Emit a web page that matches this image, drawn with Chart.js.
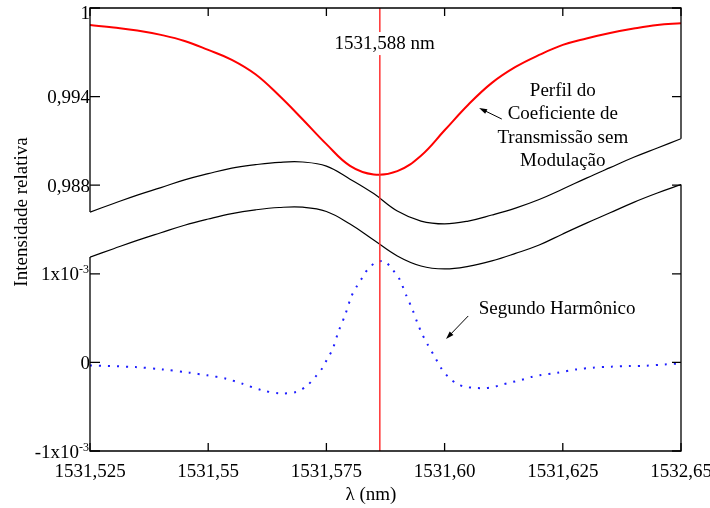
<!DOCTYPE html>
<html>
<head>
<meta charset="utf-8">
<script src="https://cdn.jsdelivr.net/npm/chart.js@4/dist/chart.umd.min.js"></script>
<style>
html,body{margin:0;padding:0;background:#fff;}
#wrap{width:710px;height:508px;}
</style>
</head>
<body>
<div id="wrap"><canvas id="c" width="710" height="508"></canvas></div>
<script>
// ---------- data ----------
const lambda = [1531.525, 1531.530, 1531.535, 1531.540, 1531.545, 1531.550, 1531.555, 1531.560, 1531.565,
  1531.570, 1531.575, 1531.580, 1531.585, 1531.590, 1531.595, 1531.600, 1531.605, 1531.610, 1531.615,
  1531.620, 1531.625, 1531.630, 1531.635, 1531.640, 1531.645, 1531.650];

// Perfil do coeficiente de transmissão sem modulação (red)
const transmissionNoMod = [0.99885, 0.99868, 0.99848, 0.99818, 0.99777, 0.99716, 0.99649, 0.99551, 0.99407,
  0.99245, 0.99078, 0.98931, 0.98873, 0.98895, 0.99000, 0.99172, 0.99345, 0.99493, 0.99601,
  0.99682, 0.99750, 0.99794, 0.99831, 0.99861, 0.99885, 0.99897];

// modulated transmission curves (black)
const modulatedUpper = [0.98618, 0.98676, 0.98733, 0.98784, 0.98836, 0.98878, 0.98916, 0.98939, 0.98955,
  0.98957, 0.98929, 0.98841, 0.98743, 0.98625, 0.98557, 0.98538, 0.98557, 0.98598, 0.98645,
  0.98703, 0.98774, 0.98848, 0.98919, 0.98989, 0.99052, 0.99115];
const modulatedLower = [0.98313, 0.98370, 0.98426, 0.98478, 0.98529, 0.98571, 0.98608, 0.98633, 0.98649,
  0.98651, 0.98622, 0.98537, 0.98429, 0.98321, 0.98253, 0.98233, 0.98250, 0.98287, 0.98338,
  0.98395, 0.98470, 0.98543, 0.98613, 0.98684, 0.98747, 0.98804];

// Segundo harmônico (blue dotted)
const harmonicLambda = [1531.5250, 1531.5347, 1531.5403, 1531.5460, 1531.5498, 1531.5538, 1531.5572, 1531.5612,
  1531.5650, 1531.5686, 1531.5708, 1531.5727, 1531.5742, 1531.5752, 1531.5763, 1531.5775, 1531.5790,
  1531.5803, 1531.5814, 1531.5826, 1531.5837, 1531.5855, 1531.5873, 1531.5890, 1531.5905, 1531.5919,
  1531.5932, 1531.5943, 1531.5953, 1531.5964, 1531.5981, 1531.5993, 1531.6008, 1531.6028, 1531.6047,
  1531.6067, 1531.6087, 1531.6106, 1531.6123, 1531.6143, 1531.6162, 1531.6182, 1531.6201, 1531.6239,
  1531.6279, 1531.6314, 1531.6353, 1531.6390, 1531.6427, 1531.6466, 1531.6500];
const secondHarmonic = [-0.034e-3, -0.053e-3, -0.079e-3, -0.116e-3, -0.146e-3, -0.184e-3, -0.240e-3, -0.312e-3,
  -0.349e-3, -0.334e-3, -0.267e-3, -0.161e-3, -0.060e-3, 0.042e-3, 0.146e-3, 0.341e-3, 0.541e-3,
  0.747e-3, 0.856e-3, 0.957e-3, 1.047e-3, 1.130e-3, 1.141e-3, 1.047e-3, 0.935e-3, 0.755e-3,
  0.597e-3, 0.439e-3, 0.315e-3, 0.203e-3, 0.045e-3, -0.068e-3, -0.166e-3, -0.248e-3, -0.278e-3,
  -0.289e-3, -0.289e-3, -0.274e-3, -0.248e-3, -0.222e-3, -0.199e-3, -0.166e-3, -0.146e-3, -0.116e-3,
  -0.079e-3, -0.060e-3, -0.048e-3, -0.042e-3, -0.037e-3, -0.023e-3, -0.011e-3];

const markerLambda = 1531.5863;
const markerLabel = '1531,588 nm';

// ticks
const xTicks = [1531.525, 1531.55, 1531.575, 1531.60, 1531.625, 1531.65];
const xTickLabels = ['1531,525', '1531,55', '1531,575', '1531,60', '1531,625', '1532,65'];
const upperTicks = [1, 0.994, 0.988];
const upperTickLabels = ['1', '0,994', '0,988'];
const lowerTicks = [1e-3, 0, -1e-3];
const lowerTickLabels = [['1x10', '-3'], ['0', ''], ['-1x10', '-3']];

const xTitle = 'λ (nm)';
const yTitle = 'Intensidade relativa';
const transLabelLines = ['Perfil do', 'Coeficiente de', 'Transmissão sem', 'Modulação'];
const harmLabel = 'Segundo Harmônico';

// ---------- chart ----------
const FONT = '"Liberation Serif", "Times New Roman", Times, serif';
const pts = (xs, ys) => xs.map((x, i) => ({x: x, y: ys[i]}));

function arrow(ctx, x1, y1, x2, y2) {
  const a = Math.atan2(y2 - y1, x2 - x1);
  const L = 8, W = 2.6;
  ctx.beginPath();
  ctx.moveTo(x1, y1);
  ctx.lineTo(x2 - Math.cos(a) * L * 0.7, y2 - Math.sin(a) * L * 0.7);
  ctx.stroke();
  ctx.beginPath();
  ctx.moveTo(x2, y2);
  ctx.lineTo(x2 - Math.cos(a) * L + Math.sin(a) * W, y2 - Math.sin(a) * L - Math.cos(a) * W);
  ctx.lineTo(x2 - Math.cos(a) * L - Math.sin(a) * W, y2 - Math.sin(a) * L + Math.cos(a) * W);
  ctx.closePath();
  ctx.fill();
}

const overlay = {
  id: 'overlay',
  afterDatasetsDraw(chart) {
    const ctx = chart.ctx, ca = chart.chartArea;
    const xs = chart.scales.x, yU = chart.scales.yU, yL = chart.scales.yL;
    const n = lambda.length;
    ctx.save();
    ctx.strokeStyle = '#000';
    ctx.fillStyle = '#000';
    ctx.lineWidth = 1.3;
    const L = ca.left, R = ca.right, T = ca.top, B = ca.bottom;
    // frame (open where the modulated curves meet the sides)
    ctx.beginPath();
    ctx.moveTo(L, yU.getPixelForValue(modulatedUpper[0]));
    ctx.lineTo(L, T); ctx.lineTo(R, T);
    ctx.lineTo(R, yU.getPixelForValue(modulatedUpper[n - 1]));
    ctx.moveTo(R, yU.getPixelForValue(modulatedLower[n - 1]));
    ctx.lineTo(R, B); ctx.lineTo(L, B);
    ctx.lineTo(L, yU.getPixelForValue(modulatedLower[0]));
    ctx.stroke();
    // ticks (inward)
    ctx.beginPath();
    xTicks.forEach(v => {
      const px = xs.getPixelForValue(v);
      ctx.moveTo(px, T); ctx.lineTo(px, T + 8);
      ctx.moveTo(px, B); ctx.lineTo(px, B - 8);
    });
    const yPix = upperTicks.map(v => yU.getPixelForValue(v)).concat(lowerTicks.map(v => yL.getPixelForValue(v)));
    yPix.forEach(py => {
      ctx.moveTo(L, py); ctx.lineTo(L + 10, py);
      ctx.moveTo(R, py); ctx.lineTo(R - 9, py);
    });
    ctx.stroke();

    // x tick labels
    ctx.font = '19px ' + FONT;
    ctx.textAlign = 'center';
    ctx.textBaseline = 'alphabetic';
    xTicks.forEach((v, i) => ctx.fillText(xTickLabels[i], xs.getPixelForValue(v), B + 26));

    // y tick labels
    ctx.textAlign = 'right';
    upperTicks.forEach((v, i) => {
      let py = yU.getPixelForValue(v);
      py = Math.max(py, T + 4);
      ctx.font = '19px ' + FONT;
      ctx.fillText(upperTickLabels[i], L, py + 6.5);
    });
    lowerTicks.forEach((v, i) => {
      const py = yL.getPixelForValue(v);
      const main = lowerTickLabels[i][0], sup = lowerTickLabels[i][1];
      ctx.font = '12px ' + FONT;
      const sw = sup ? ctx.measureText(sup).width : 0;
      if (sup) ctx.fillText(sup, L - 1, py - 0.5);
      ctx.font = '19px ' + FONT;
      ctx.fillText(main, L - (sup ? 1 + sw : 0), py + 6.5);
    });

    // axis titles
    ctx.textAlign = 'center';
    ctx.font = '19px ' + FONT;
    ctx.fillText(xTitle, 371, 500);
    ctx.save();
    ctx.translate(27, 212);
    ctx.rotate(-Math.PI / 2);
    ctx.fillText(yTitle, 0, 0);
    ctx.restore();

    // marker label with white background
    {
      const cx = xs.getPixelForValue(1531.5873);
      const by = yU.getPixelForValue(0.99722);
      const w = ctx.measureText(markerLabel).width;
      ctx.fillStyle = '#fff';
      ctx.fillRect(cx - w / 2 - 3, by - 17, w + 6, 23);
      ctx.fillStyle = '#000';
      ctx.fillText(markerLabel, cx, by);
    }

    // transmission annotation
    {
      const cx = xs.getPixelForValue(1531.6250);
      const by = yU.getPixelForValue(0.99404);
      transLabelLines.forEach((t, i) => ctx.fillText(t, cx, by + i * 23.3));
      ctx.lineWidth = 1;
      arrow(ctx, xs.getPixelForValue(1531.6121), yU.getPixelForValue(0.99248),
                 xs.getPixelForValue(1531.6073), yU.getPixelForValue(0.99323));
    }
    // harmonic annotation
    {
      const cx = xs.getPixelForValue(1531.6238);
      const by = yL.getPixelForValue(0.546e-3);
      ctx.fillText(harmLabel, cx, by);
      ctx.lineWidth = 1;
      arrow(ctx, xs.getPixelForValue(1531.6050), yL.getPixelForValue(0.524e-3),
                 xs.getPixelForValue(1531.6003), yL.getPixelForValue(0.264e-3));
    }
    ctx.restore();
  }
};

new Chart(document.getElementById('c'), {
  type: 'line',
  data: {
    datasets: [
      {
        label: markerLabel,
        data: [{x: markerLambda, y: 0.97}, {x: markerLambda, y: 1.0}],
        yAxisID: 'yU', borderColor: 'rgb(255,50,50)', borderWidth: 1.5, pointRadius: 0, fill: false
      },
      {
        label: 'Perfil do Coeficiente de Transmissão sem Modulação',
        data: pts(lambda, transmissionNoMod),
        yAxisID: 'yU', borderColor: 'rgb(255,0,0)', borderWidth: 2, pointRadius: 0,
        tension: 0.4, fill: false
      },
      {
        label: 'modulado 1',
        data: pts(lambda, modulatedUpper),
        yAxisID: 'yU', borderColor: '#000', borderWidth: 1.2, pointRadius: 0,
        tension: 0.4, fill: false
      },
      {
        label: 'modulado 2',
        data: pts(lambda, modulatedLower),
        yAxisID: 'yU', borderColor: '#000', borderWidth: 1.2, pointRadius: 0,
        tension: 0.4, fill: false
      },
      {
        label: harmLabel,
        data: pts(harmonicLambda, secondHarmonic),
        yAxisID: 'yL', borderColor: 'rgb(30,30,255)', borderWidth: 2, borderDash: [2, 7],
        pointRadius: 0, tension: 0.3, fill: false
      }
    ]
  },
  options: {
    responsive: false,
    animation: false,
    devicePixelRatio: 1,
    layout: {padding: {left: 90, right: 29, top: 8, bottom: 57}},
    plugins: {legend: {display: false}, tooltip: {enabled: false}},
    scales: {
      x: {type: 'linear', min: 1531.525, max: 1531.65, display: false},
      yU: {type: 'linear', position: 'left', min: 0.97, max: 1.0, display: false},
      yL: {type: 'linear', position: 'right', min: -1e-3, max: 4e-3, display: false}
    }
  },
  plugins: [overlay]
});
</script>
</body>
</html>
